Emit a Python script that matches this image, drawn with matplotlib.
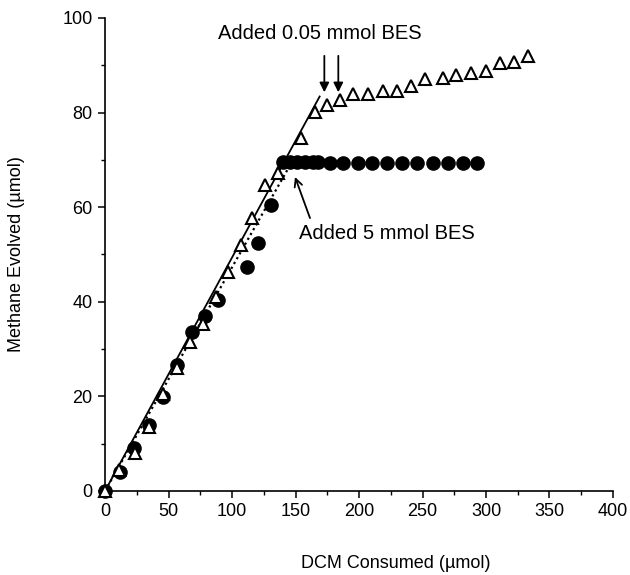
import numpy as np
import matplotlib.pyplot as plt
from matplotlib.ticker import MultipleLocator

plt.rcParams["font.family"] = ["Liberation Sans", "DejaVu Sans"]

# open triangles (0.05 mmol BES)
tri_x = [0, 11, 24, 35, 46, 57, 67, 77, 87, 97, 107, 116, 126, 136.5, 154, 165, 175,
         185, 195.5, 207, 219, 230, 241, 252, 266, 276, 288, 300, 311, 322, 333]
tri_y = [0, 4.5, 8.0, 13.5, 20.5, 26, 31.4, 35.3, 41, 46.4, 52.0, 57.7, 64.7, 67.2, 74.6,
         80.2, 81.6, 82.7, 84.0, 84.0, 84.6, 84.6, 85.6, 87.2, 87.4, 87.9, 88.3, 88.8,
         90.4, 90.8, 91.9]

# filled circles (5 mmol BES)
circ_x = [0, 11.8, 22.8, 35, 45.9, 56.9, 68.5, 78.7, 89.2, 111.6, 120.7, 130.4, 139.9,
          145.7, 151, 157.5, 163.5, 168, 177.2, 187.5, 199, 210.5, 222, 234, 246, 258,
          270, 282, 293]
circ_y = [0, 4.1, 9.0, 14, 19.9, 26.6, 33.7, 36.9, 40.4, 47.4, 52.4, 60.5, 69.5,
          69.5, 69.5, 69.5, 69.5, 69.5, 69.4, 69.4, 69.4, 69.4, 69.4, 69.4, 69.4, 69.4,
          69.4, 69.4, 69.4]

# regression lines
solid_x = [0, 169]
solid_y = [0, 83.4]
dotted_x = [0, 147]
dotted_y = [0, 69.5]

# BES addition arrows
bes_low_x = [172.7, 183.7]

fig = plt.figure(figsize=(6.3, 5.75), dpi=100)
ax = fig.add_axes([0.1667, 0.1461, 0.8063, 0.8226])

ax.plot(solid_x, solid_y, color="black", lw=1.3, zorder=2)
ax.plot(dotted_x, dotted_y, color="black", lw=1.6, linestyle=(0, (1, 1.5)), zorder=2)

ax.plot(circ_x, circ_y, "o", color="black", ms=9.5, mec="black", zorder=3, clip_on=False)
ax.plot(tri_x, tri_y, "^", mfc="white", mec="black", mew=1.5, ms=8.8, zorder=4, clip_on=False)

ax.set_xlim(0, 400)
ax.set_ylim(0, 100)

for s in ["top", "right"]:
    ax.spines[s].set_visible(False)
for s in ["left", "bottom"]:
    ax.spines[s].set_linewidth(1.2)

ax.xaxis.set_major_locator(MultipleLocator(50))
ax.xaxis.set_minor_locator(MultipleLocator(25))
ax.yaxis.set_major_locator(MultipleLocator(20))
ax.yaxis.set_minor_locator(MultipleLocator(10))
ax.tick_params(which="major", direction="out", length=5, width=1.1, labelsize=13, pad=4)
ax.tick_params(which="minor", direction="out", length=3, width=1.0)

ax.set_xlabel("DCM Consumed (\u00b5mol)", fontsize=13)
ax.xaxis.set_label_coords(0.573, -0.135)
ax.set_ylabel("Methane Evolved (\u00b5mol)", fontsize=13)
ax.yaxis.set_label_coords(-0.157, 0.5)

ax.text(89, 96.8, "Added 0.05 mmol BES", fontsize=14.5, ha="left", va="center")
for bx in bes_low_x:
    ax.annotate("", xy=(bx, 84.3), xytext=(bx, 92),
                arrowprops=dict(arrowstyle="-|>", color="black", lw=1.3, mutation_scale=14,
                                shrinkA=0, shrinkB=0))

ax.text(152.8, 54.5, "Added 5 mmol BES", fontsize=14.5, ha="left", va="center")
ax.annotate("", xy=(149.6, 66.4), xytext=(161.4, 57.7),
            arrowprops=dict(arrowstyle="->", color="black", lw=1.3, mutation_scale=14,
                            shrinkA=0, shrinkB=0))

fig.savefig("out.png", dpi=100)
